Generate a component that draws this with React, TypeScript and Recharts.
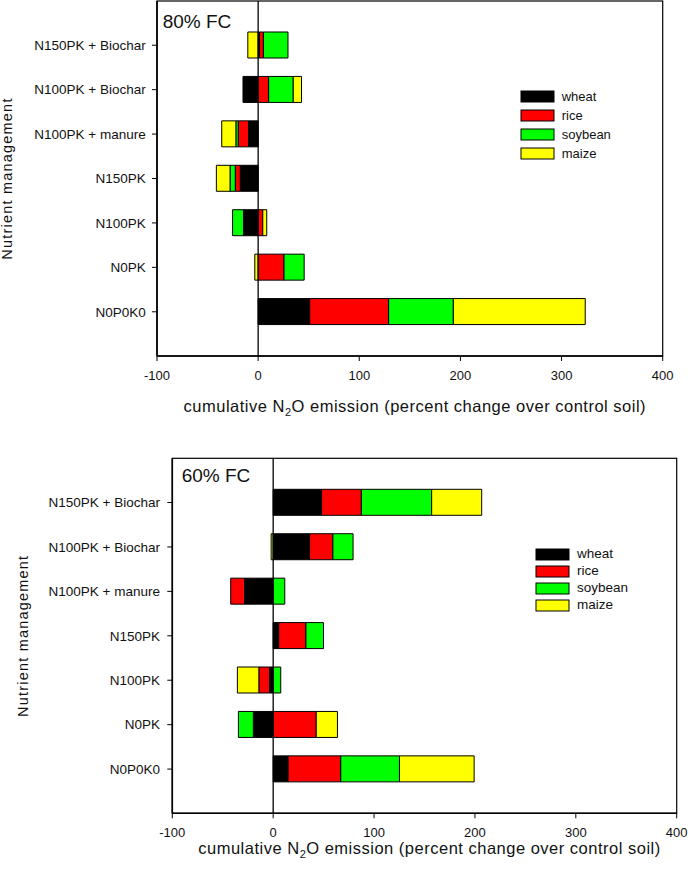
import React from 'react';
import { BarChart, Bar, XAxis, YAxis, ReferenceLine, Legend, Label } from 'recharts';

const treatments = [
  'N150PK + Biochar',
  'N100PK + Biochar',
  'N100PK + manure',
  'N150PK',
  'N100PK',
  'N0PK',
  'N0P0K0',
];
const xTicks = [-100, 0, 100, 200, 300, 400];

// 80% FC — percent change over control soil
const wheat80 = [1.3, -15, -9.5, -17.7, -14.5, 0, 51];
const rice80 = [3.9, 10.4, -10.2, -4.9, 4.6, 25.6, 78];
const soybean80 = [24.3, 24.3, -2.3, -5.2, -10.8, 19.9, 64];
const maize80 = [-10.2, 8.2, -14, -13.5, 3.9, -3.3, 130.4];

// 60% FC
const wheat60 = [48, 36.1, -28.3, 5.5, -3.6, -19.7, 14.8];
const rice60 = [39.4, 23.1, -13.8, 27, -10.6, 42.7, 52.2];
const soybean60 = [69.7, 20, 11.5, 17.4, 7.5, -14.8, 58.2];
const maize60 = [49.6, -2, 0, 0, -21.3, 21, 74];

const COLORS: Record<string, string> = {
  wheat: '#000000',
  rice: '#ff0000',
  soybean: '#00ff00',
  maize: '#ffff00',
};
const CROPS = ['wheat', 'rice', 'soybean', 'maize'];
const FONT = '"Liberation Sans", Arial, sans-serif';

function buildRows(w: number[], r: number[], s: number[], m: number[]) {
  return treatments.map((name, i) => ({ name, wheat: w[i], rice: r[i], soybean: s[i], maize: m[i] }));
}

const rows80 = buildRows(wheat80, rice80, soybean80, maize80);
const rows60 = buildRows(wheat60, rice60, soybean60, maize60);

interface PanelProps {
  data: ReturnType<typeof buildRows>;
  title: string;
  yWidth: number;
  margin: { top: number; right: number; bottom: number; left: number };
  yTickMargin: number;
  xTickMargin: number;
  titleDx: number;
  titleDy: number;
  yLabelX: number;
  xTitleDy: number;
  legendLeft: number;
  legendTop: number;
  legendRow: number;
  legendFont: number;
}

function makeLegend(rowH: number, fontSize: number) {
  return (props: any) => {
    const payload = [...(props.payload || [])].sort(
      (a: any, b: any) => CROPS.indexOf(a.dataKey) - CROPS.indexOf(b.dataKey)
    );
    return (
      <div style={{ fontFamily: FONT }}>
        {payload.map((p: any) => (
          <div key={p.value} style={{ display: 'flex', alignItems: 'center', height: rowH }}>
            <svg width={35} height={13} style={{ display: 'block' }}>
              <rect x={1} y={1} width={33} height={11} fill={COLORS[p.dataKey] || p.color} stroke="#000" strokeWidth={1} />
            </svg>
            <span style={{ marginLeft: 7, fontSize, color: '#111', lineHeight: 1 }}>{p.value}</span>
          </div>
        ))}
      </div>
    );
  };
}

function Panel(p: PanelProps) {
  return (
    <BarChart
      width={692}
      height={438}
      data={p.data}
      layout="vertical"
      stackOffset="sign"
      margin={p.margin}
    >
      <XAxis
        type="number"
        domain={[-100, 400]}
        ticks={xTicks}
        allowDataOverflow
        tickSize={5}
        tickMargin={p.xTickMargin}
        height={60}
        tick={{ fontSize: 13, fill: '#111', fontFamily: FONT }}
        tickLine={{ stroke: '#000' }}
        axisLine={{ stroke: '#000', strokeWidth: 1.6 }}
      >
        <Label
          content={(lp: any) => {
            const vb = lp.viewBox || { x: 0, y: 0, width: 0 };
            const top = p.margin.top;
            return (
              <g>
                {/* plot frame: top and right edges */}
                <rect
                  x={vb.x}
                  y={top}
                  width={vb.width}
                  height={vb.y - top}
                  fill="none"
                  stroke="#000"
                  strokeWidth={1.2}
                />
                <text x={vb.x + p.titleDx} y={top + p.titleDy} fontSize={19} fill="#111" fontFamily={FONT}>
                  {p.title}
                </text>
                <text
                  x={vb.x + vb.width / 2 + 5}
                  y={vb.y + p.xTitleDy}
                  textAnchor="middle"
                  fontSize={16.5}
                  letterSpacing={0.5}
                  fill="#111"
                  fontFamily={FONT}
                >
                  <tspan>cumulative N</tspan>
                  <tspan fontSize={11} dy={4}>2</tspan>
                  <tspan dy={-4}>O emission (percent change over control soil)</tspan>
                </text>
              </g>
            );
          }}
        />
      </XAxis>
      <YAxis
        type="category"
        dataKey="name"
        width={p.yWidth}
        padding={{ top: 22, bottom: 22 }}
        tickSize={5}
        tickMargin={p.yTickMargin}
        tick={{ fontSize: 13.5, fill: '#111', fontFamily: FONT }}
        tickLine={{ stroke: '#000' }}
        axisLine={{ stroke: '#000', strokeWidth: 1.6 }}
      >
        <Label
          content={(lp: any) => {
            const vb = lp.viewBox || { y: 0, height: 0 };
            const cy = vb.y + vb.height / 2;
            return (
              <text
                x={p.yLabelX}
                y={cy}
                transform={`rotate(-90 ${p.yLabelX} ${cy})`}
                textAnchor="middle"
                fontSize={14.5}
                letterSpacing={1.2}
                fill="#111"
                fontFamily={FONT}
              >
                Nutrient management
              </text>
            );
          }}
        />
      </YAxis>
      {CROPS.map((c) => (
        <Bar
          key={c}
          dataKey={c}
          name={c}
          stackId="a"
          fill={COLORS[c]}
          stroke="#000"
          strokeWidth={1}
          barSize={26}
          isAnimationActive={false}
        />
      ))}
      <ReferenceLine x={0} stroke="#000" strokeWidth={1.3} />
      <Legend
        layout="vertical"
        align="center"
        verticalAlign="middle"
        content={makeLegend(p.legendRow, p.legendFont)}
        wrapperStyle={{ position: 'absolute', left: p.legendLeft, top: p.legendTop, width: 130, height: 'auto' }}
      />
    </BarChart>
  );
}

export default function App() {
  return (
    <div
      style={{
        position: 'absolute',
        left: 0,
        top: 0,
        width: 692,
        height: 876,
        background: '#fff',
        fontFamily: FONT,
      }}
    >
      <Panel
        data={rows80}
        title="80% FC"
        yWidth={157}
        margin={{ top: 1, right: 29.3, bottom: 22, left: 0 }}
        yTickMargin={6.3}
        xTickMargin={10}
        titleDx={5.7}
        titleDy={27.3}
        yLabelX={11.5}
        xTitleDy={55.7}
        legendLeft={519.7}
        legendTop={86.5}
        legendRow={19}
        legendFont={13}
      />
      <Panel
        data={rows60}
        title="60% FC"
        yWidth={172.3}
        margin={{ top: 20.3, right: 15.3, bottom: 2.7, left: 0 }}
        yTickMargin={7.3}
        xTickMargin={9}
        titleDx={9.4}
        titleDy={23.4}
        yLabelX={28}
        xTitleDy={40.5}
        legendLeft={535}
        legendTop={107.5}
        legendRow={17}
        legendFont={13.5}
      />
    </div>
  );
}
